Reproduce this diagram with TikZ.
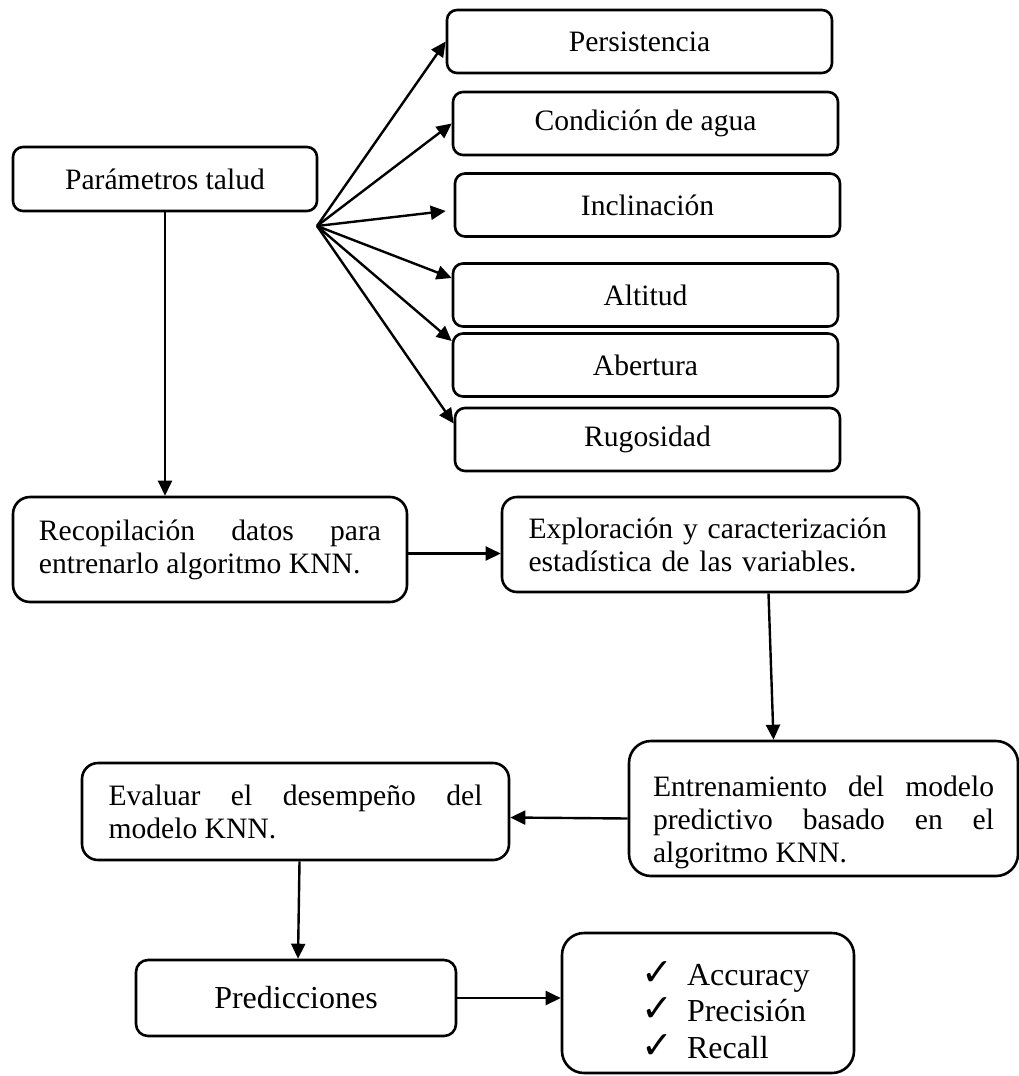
\documentclass[tikz,border=0pt]{standalone}
\usepackage{fontspec}
\setmainfont{Liberation Serif}
\newfontfamily\simbolos{DejaVu Sans}
\usetikzlibrary{arrows.meta}
\hyphenpenalty=10000
\tolerance=10000

\tikzset{
	caja/.style={draw, rounded corners=5pt, line width=1.3pt, inner sep=3pt, font=\fontsize{14.8pt}{16.5pt}\selectfont},
	flecha/.style={-{Triangle[length=7.5pt, width=7pt]}, line width=1.2pt}
}
\newcommand{\marca}{\makebox[23pt][l]{\simbolos\fontsize{19pt}{19pt}\selectfont ✓}}

\begin{document}
\begin{tikzpicture}[x=0.5pt, y=-0.5pt, line join=round]
	\useasboundingbox (0,0) rectangle (1018,1076);
	\node[caja, minimum width=152pt, minimum height=32pt] (parm) at (165,179) {Parámetros talud};
	\foreach \nom/\y/\dx/\txt in {pers/41.5/0/Persistencia, cond/123.5/6/Condición de agua, incl/205/8/Inclinación, alt/295/6/Altitud, abe/365/6/Abertura, rug/439.5/8/Rugosidad}
		\node[caja, minimum width=192.5pt, minimum height=31.5pt] (\nom) at (639.5+\dx,\y) {\txt};
	\coordinate (fan) at (317,226);
	\foreach \nom/\dy in {pers/0, cond/0, alt/8.5, abe/12, rug/8}
		\draw[flecha] (fan) -- ([yshift=\dy pt]\nom.west);
	\draw[flecha] (fan) -- ([xshift=-4pt, yshift=-3pt]incl.west);
	\node[caja, rounded corners=8.5pt, text width=171pt, align=justify, minimum width=197pt, minimum height=52.5pt] (reco) at (210,549.5) {Recopilación datos para entrenarlo algoritmo KNN.};
	\node[caja, rounded corners=7.5pt, text width=182pt, align=left, minimum width=208.5pt, minimum height=47.5pt] (expl) at (710.5,544.5) {Exploración y caracterización estadística de las variables.};
	\node[caja, rounded corners=11pt, text width=170.5pt, align=justify, minimum width=194.5pt, minimum height=67.5pt] (entr) at (823.5,808.5) {\rule{0pt}{24pt}Entrenamiento del modelo predictivo basado en el algoritmo KNN.};
	\node[caja, rounded corners=8pt, text width=187pt, align=justify, minimum width=213.5pt, minimum height=48.5pt] (eval) at (295.5,811.5) {Evaluar el desempeño del modelo KNN.};
	\node[caja, rounded corners=6pt, font=\fontsize{16pt}{19pt}\selectfont, minimum width=160pt, minimum height=38pt] (pred) at (296,998) {Predicciones};
	\node[caja, rounded corners=11pt, font=\fontsize{16pt}{18.25pt}\selectfont, text width=120pt, align=left, minimum width=146pt, minimum height=70pt] (metr) at (708,1003) {%
		\rule{0pt}{19pt}\hspace*{26.5pt}\marca Accuracy\\
		\hspace*{26.5pt}\marca Precisión\\
		\hspace*{26.5pt}\marca Recall};
	\draw[flecha] (parm.south) -- (parm.south |- reco.north);
	\draw[flecha] ([yshift=-2pt]reco.east) -- ([yshift=-2pt]reco.east -| expl.west);
	\draw[flecha] ([xshift=29pt]expl.south) -- ([xshift=-25pt]entr.north);
	\draw[flecha] ([yshift=-5pt]entr.west) -- ([yshift=-3pt]eval.east);
	\draw[flecha] ([xshift=2pt]eval.south) -- ([xshift=1pt]pred.north);
	\draw[flecha] (pred.east) -- (pred.east -| metr.west);
\end{tikzpicture}
\end{document}
